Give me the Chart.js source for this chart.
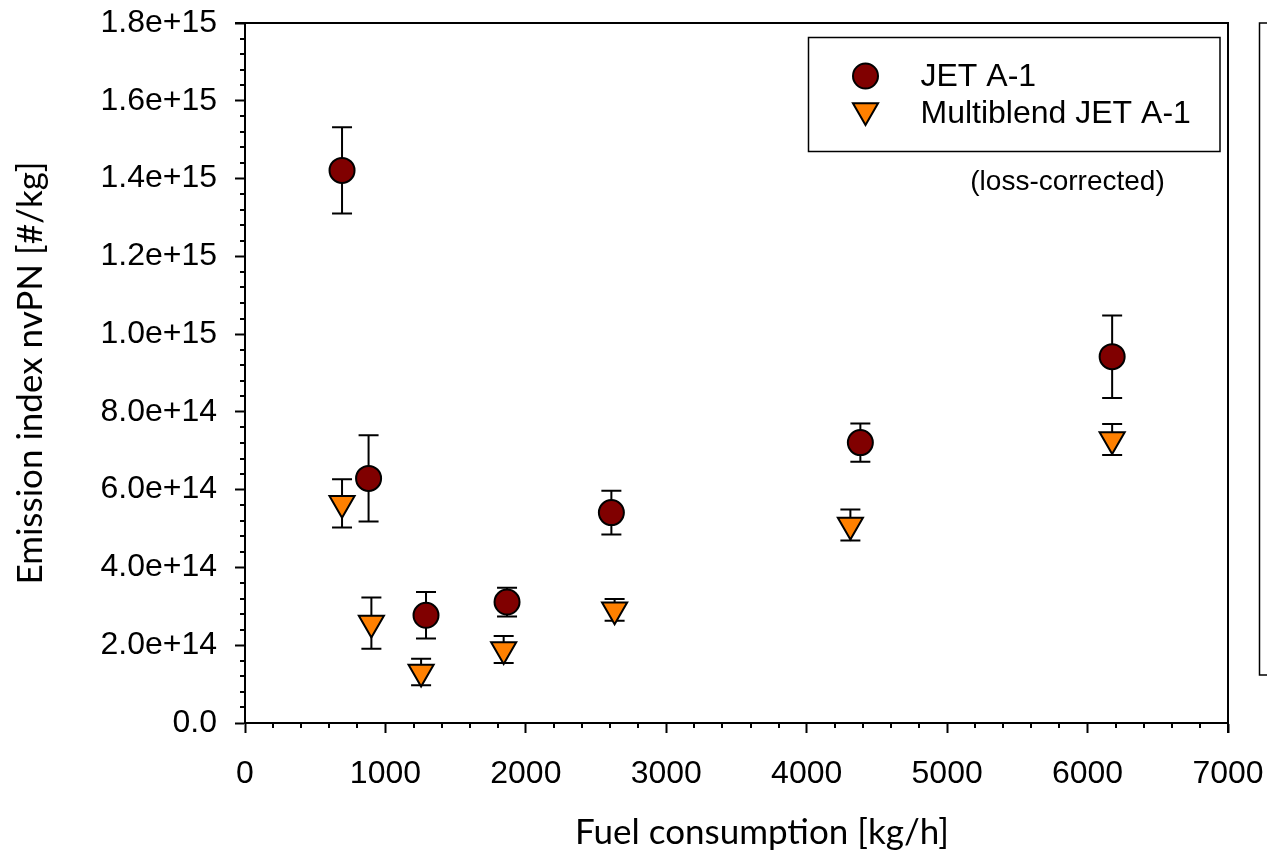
<!DOCTYPE html>
<html>
<head>
<meta charset="utf-8">
<script src="https://cdn.jsdelivr.net/npm/chart.js@4.4.1/dist/chart.umd.min.js"></script>
<style>
  html, body { margin: 0; padding: 0; background: #fff; }
  #wrap { position: relative; width: 1267px; height: 852px; }
</style>
</head>
<body>
<div id="wrap"><canvas id="chart"></canvas></div>
<script>
// JET A-1 (fuel flow kg/h, EI nvPN #/kg, symmetric error)
const jetFuel = [691, 880, 1289, 1866, 2609, 4382, 6175];
const jetEI   = [1.421e15, 0.629e15, 0.277e15, 0.311e15, 0.541e15, 0.721e15, 0.942e15];
const jetErr  = [0.111e15, 0.111e15, 0.060e15, 0.037e15, 0.056e15, 0.049e15, 0.106e15];

// Multiblend JET A-1
const blendFuel = [691, 900, 1254, 1842, 2632, 4311, 6175];
const blendEI   = [0.565e15, 0.257e15, 0.131e15, 0.189e15, 0.291e15, 0.509e15, 0.729e15];
const blendErr  = [0.062e15, 0.066e15, 0.034e15, 0.035e15, 0.028e15, 0.040e15, 0.040e15];

const xTickLabels = ['0', '1000', '2000', '3000', '4000', '5000', '6000', '7000'];
const yTickLabels = ['0.0', '2.0e+14', '4.0e+14', '6.0e+14', '8.0e+14',
                     '1.0e+15', '1.2e+15', '1.4e+15', '1.6e+15', '1.8e+15'];

const ARIAL = "'Liberation Sans', Arial, sans-serif";
const TITLE_FONT = "Lato, 'Open Sans', sans-serif";

const toPoints = (xs, ys) => xs.map((x, i) => ({ x, y: ys[i] }));

// keep the plot area fixed: no extra room for overhanging tick labels
const noOverhang = s => {
  s.paddingTop = 0; s.paddingBottom = 0;
  s.paddingLeft = 0; s.paddingRight = 0;
};

// error bars, minor ticks, frame, x title, legend box and note
const extras = {
  id: 'extras',
  beforeDatasetsDraw(chart) {
    const { ctx, scales: { x, y } } = chart;
    ctx.save();
    ctx.strokeStyle = '#000';
    ctx.lineWidth = 2;
    chart.data.datasets.forEach(ds => {
      ds.data.forEach((p, i) => {
        const px = x.getPixelForValue(p.x);
        const top = y.getPixelForValue(p.y + ds.errors[i]);
        const bot = y.getPixelForValue(p.y - ds.errors[i]);
        ctx.beginPath();
        ctx.moveTo(px, top); ctx.lineTo(px, bot);
        ctx.moveTo(px - 10, top); ctx.lineTo(px + 10, top);
        ctx.moveTo(px - 10, bot); ctx.lineTo(px + 10, bot);
        ctx.stroke();
      });
    });
    ctx.restore();
  },
  afterDraw(chart) {
    const { ctx, chartArea: a, scales: { x, y } } = chart;
    ctx.save();
    ctx.strokeStyle = '#000';
    ctx.lineWidth = 2;

    // minor ticks
    ctx.beginPath();
    for (let v = 200; v < 7000; v += 200) {
      if (v % 1000 === 0) continue;
      const px = Math.round(x.getPixelForValue(v));
      ctx.moveTo(px, a.bottom); ctx.lineTo(px, a.bottom + 5);
    }
    for (let k = 1; k < 45; k++) {
      if (k % 5 === 0) continue;
      const py = Math.round(y.getPixelForValue(k * 0.04e15));
      ctx.moveTo(a.left - 5, py); ctx.lineTo(a.left, py);
    }
    ctx.stroke();

    // top and right frame
    ctx.beginPath();
    ctx.moveTo(a.left - 10, a.top); ctx.lineTo(a.right, a.top);
    ctx.lineTo(a.right, a.bottom + 10);
    ctx.stroke();

    // x axis title (sits right of the plot centre in the original)
    ctx.fillStyle = '#000';
    ctx.font = '35px ' + TITLE_FONT;
    ctx.textAlign = 'center';
    ctx.textBaseline = 'middle';
    ctx.fillText('Fuel consumption [kg/h]', 762, 833);

    // neighbouring panel, cut off at the right edge
    ctx.lineWidth = 1.5;
    ctx.strokeRect(a.right + 31.5, a.top, 40, 652);

    // legend box
    const bx = a.right - 419.5, by = a.top + 14.5, bw = 411.5, bh = 114;
    ctx.strokeRect(bx, by, bw, bh);
    ctx.font = '32px ' + ARIAL;
    ctx.textAlign = 'left';
    chart.data.datasets.forEach((ds, i) => {
      const cy = by + 38.5 + i * 37.5;
      const my = ds.pointStyle === 'triangle' ? cy - 3 : cy;
      ctx.fillStyle = ds.backgroundColor;
      ctx.strokeStyle = '#000';
      ctx.lineWidth = 2;
      Chart.helpers.drawPoint(ctx, {
        pointStyle: ds.pointStyle, radius: ds.pointRadius,
        rotation: ds.rotation || 0, borderWidth: 2
      }, bx + 57, my);
      ctx.fillStyle = '#000';
      ctx.fillText(ds.label, bx + 112, cy + 1);
    });

    ctx.font = '28px ' + ARIAL;
    ctx.textAlign = 'center';
    ctx.fillText('(loss-corrected)', bx + 259, by + 145);
    ctx.restore();
  }
};

new Chart(document.getElementById('chart'), {
  type: 'scatter',
  data: {
    datasets: [
      {
        label: 'JET A-1',
        data: toPoints(jetFuel, jetEI),
        errors: jetErr,
        pointStyle: 'circle',
        pointRadius: 12.5,
        backgroundColor: '#800000',
        borderColor: '#000',
        borderWidth: 2
      },
      {
        label: 'Multiblend JET A-1',
        data: toPoints(blendFuel, blendEI),
        errors: blendErr,
        pointStyle: 'triangle',
        rotation: 180,
        pointRadius: 14.5,
        backgroundColor: '#ff8000',
        borderColor: '#000',
        borderWidth: 2
      }
    ]
  },
  options: {
    responsive: true,
    maintainAspectRatio: false,
    animation: false,
    layout: { padding: { top: 23, right: 39, left: 0, bottom: 0 } },
    plugins: {
      legend: { display: false },
      tooltip: { enabled: false }
    },
    scales: {
      x: {
        type: 'linear',
        min: 0,
        max: 7000,
        afterFit: s => { s.height = 129; noOverhang(s); },
        border: { display: true, color: '#000', width: 2 },
        grid: { drawOnChartArea: false, drawTicks: true, tickLength: 10, tickColor: '#000', tickWidth: 2 },
        ticks: {
          stepSize: 1000,
          padding: 22,
          color: '#000',
          font: { family: ARIAL, size: 32 },
          maxRotation: 0,
          callback: v => xTickLabels[Math.round(v / 1000)]
        },
        title: { display: false }
      },
      y: {
        type: 'linear',
        min: 0,
        max: 1.8e15,
        afterFit: s => { s.width = 245; noOverhang(s); },
        border: { display: true, color: '#000', width: 2 },
        grid: { drawOnChartArea: false, drawTicks: true, tickLength: 10, tickColor: '#000', tickWidth: 2 },
        ticks: {
          stepSize: 2e14,
          padding: 18,
          color: '#000',
          font: { family: ARIAL, size: 32 },
          callback: v => yTickLabels[Math.round(v / 2e14)]
        },
        title: {
          display: true,
          text: 'Emission index nvPN [#/kg]',
          color: '#000',
          font: { family: TITLE_FONT, size: 35 },
          padding: { top: 10, bottom: 0 }
        }
      }
    }
  },
  plugins: [extras]
});
</script>
</body>
</html>
